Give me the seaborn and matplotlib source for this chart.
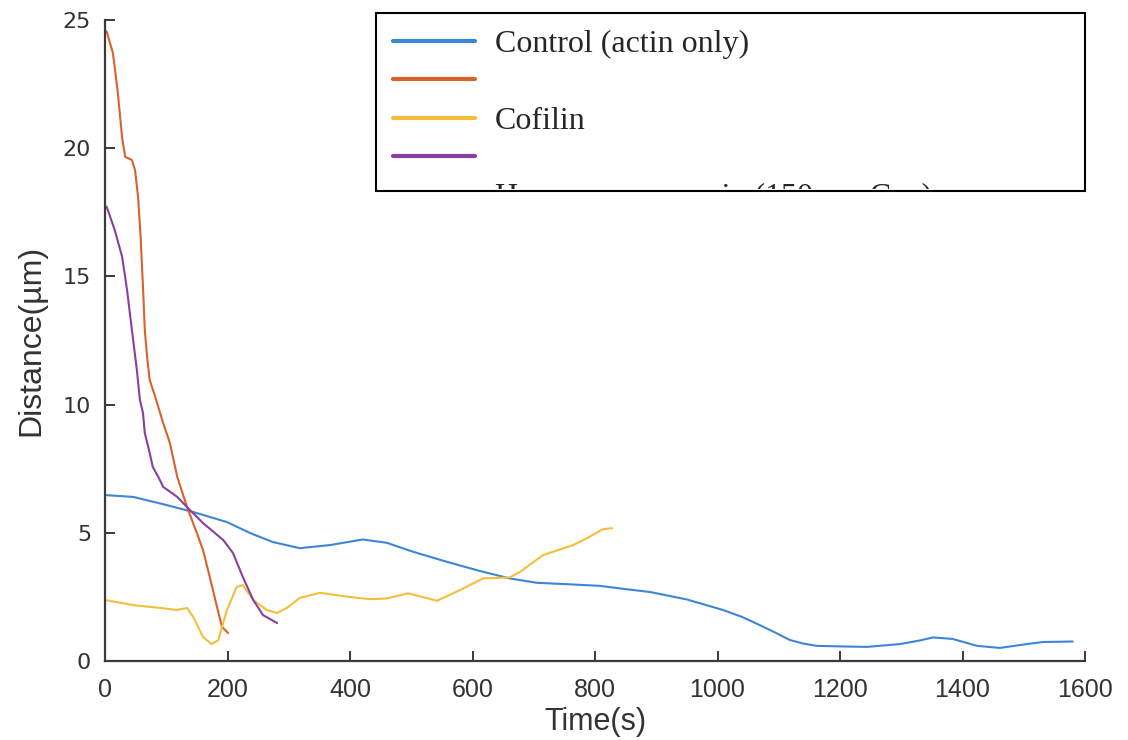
import numpy as np
import pandas as pd
import seaborn as sns
import matplotlib.pyplot as plt
from matplotlib.lines import Line2D
from matplotlib.transforms import Bbox, TransformedBbox

# Control (actin only)
control_t = [0, 46, 101, 144, 199, 237, 274, 318, 367, 421, 460, 503, 558, 612, 661, 705, 759, 808, 841,
             890, 950, 1009, 1040, 1069, 1095, 1118, 1140, 1162, 1200, 1244, 1298, 1330, 1352, 1384, 1424,
             1461, 1505, 1531, 1580]
control_d = [6.47, 6.4, 6.08, 5.81, 5.42, 4.99, 4.64, 4.4, 4.52, 4.74, 4.61, 4.26, 3.87, 3.51, 3.22, 3.05,
             2.99, 2.93, 2.83, 2.69, 2.4, 1.99, 1.72, 1.40, 1.1, 0.82, 0.68, 0.59, 0.57, 0.55, 0.66, 0.8,
             0.92, 0.86, 0.59, 0.51, 0.66, 0.74, 0.76]

# second series (orange)
orange_t = [0, 3, 13, 21, 28, 33, 44, 49, 54, 58, 62, 65, 69, 73, 82, 95, 106, 118, 134, 150, 160, 171, 183,
            191, 201]
orange_d = [24.6, 24.53, 23.7, 22.15, 20.4, 19.66, 19.54, 19.15, 18.1, 16.6, 14.6, 12.9, 11.8, 10.96, 10.3,
            9.28, 8.5, 7.18, 6.0, 4.99, 4.33, 3.28, 2.1, 1.33, 1.09]

# Cofilin
cofilin_t = [0, 46, 90, 117, 134, 144, 160, 174, 185, 199, 215, 225, 242, 264, 281, 297, 318, 351, 395, 433,
             460, 495, 542, 580, 617, 661, 678, 715, 764, 787, 813, 828]
cofilin_d = [2.38, 2.18, 2.07, 1.99, 2.07, 1.72, 0.94, 0.66, 0.82, 1.99, 2.89, 2.96, 2.38, 1.99, 1.87, 2.07,
             2.46, 2.66, 2.51, 2.41, 2.44, 2.64, 2.35, 2.77, 3.22, 3.26, 3.48, 4.13, 4.52, 4.79, 5.14, 5.18]

# fourth series (purple)
purple_t = [0, 3, 16, 28, 36, 44, 52, 57, 62, 65, 73, 78, 87, 95, 118, 134, 160, 193, 209, 225, 242, 258, 281]
purple_d = [17.75, 17.7, 16.8, 15.76, 14.47, 12.9, 11.35, 10.18, 9.67, 8.89, 8.11, 7.57, 7.18, 6.79, 6.4,
            6.0, 5.38, 4.72, 4.21, 3.28, 2.38, 1.79, 1.48]

labels = ["Control (actin only)", "", "Cofilin", "", "Heavy meromyosin (150 nm Cap)"]
colors = ["#3d86d6", "#d9622b", "#f2be3c", "#8a3fa0"]

series = [(control_t, control_d), (orange_t, orange_d), (cofilin_t, cofilin_d), (purple_t, purple_d)]
frames = []
for i, (t, d) in enumerate(series):
    frames.append(pd.DataFrame({"t": t, "d": d, "s": i}))
df = pd.concat(frames, ignore_index=True)

sns.set_theme(style="white")
fig = plt.figure(figsize=(11.28, 7.4), dpi=100)
ax = fig.add_axes([105 / 1128, 1 - 661 / 740, 980 / 1128, 641 / 740])

sns.lineplot(data=df, x="t", y="d", hue="s", palette=colors, sort=False, estimator=None,
             linewidth=1.5, legend=False, ax=ax)

ax.set_xlim(0, 1600)
ax.set_ylim(0, 25)
ax.set_xticks(range(0, 1601, 200))
ax.set_yticks(range(0, 26, 5))

for side in ["top", "right"]:
    ax.spines[side].set_visible(False)
for side in ["left", "bottom"]:
    ax.spines[side].set_color("#3a3a3a")
    ax.spines[side].set_linewidth(1.6)

ax.tick_params(axis="both", direction="in", length=7, width=1.4, color="#3a3a3a", labelcolor="#333333",
               bottom=True, left=True)
ax.tick_params(axis="y", pad=10)
ax.tick_params(axis="x", pad=12)
for lab in ax.get_yticklabels():
    lab.set_family("DejaVu Sans")
    lab.set_fontsize(16)
for lab in ax.get_xticklabels():
    lab.set_family("Liberation Sans")
    lab.set_fontsize(18)

ax.set_xlabel("Time(s)", family="Liberation Sans", fontsize=22, color="#333333", labelpad=4)
ax.set_ylabel("Distance(µm)", family="Liberation Sans", fontsize=23, color="#333333", labelpad=12)

# legend: frame drawn by hand so the last entry is cut off like the original
handles = [Line2D([], [], color=c, lw=3) for c in colors] + [Line2D([], [], color="none")]
leg = ax.legend(handles, labels, loc="upper left", bbox_to_anchor=(0.281, 1.0047),
                frameon=False, prop={"family": "Liberation Serif", "size": 23},
                handlelength=2.56, handletextpad=0.63, labelspacing=0.28, borderaxespad=0.0)
box = plt.Rectangle((376 / 1128, 1 - 191 / 740), 709 / 1128, 178 / 740, transform=fig.transFigure,
                    fill=False, edgecolor="black", linewidth=1.5, zorder=5)
fig.patches.append(box)
clip = TransformedBbox(Bbox.from_extents(376 / 1128, 1 - 189 / 740, 1085 / 1128, 1 - 13 / 740), fig.transFigure)
leg.texts[4].set_clip_box(clip)
leg.texts[4].set_clip_on(True)

fig.savefig("out.png", dpi=100, facecolor="white")
